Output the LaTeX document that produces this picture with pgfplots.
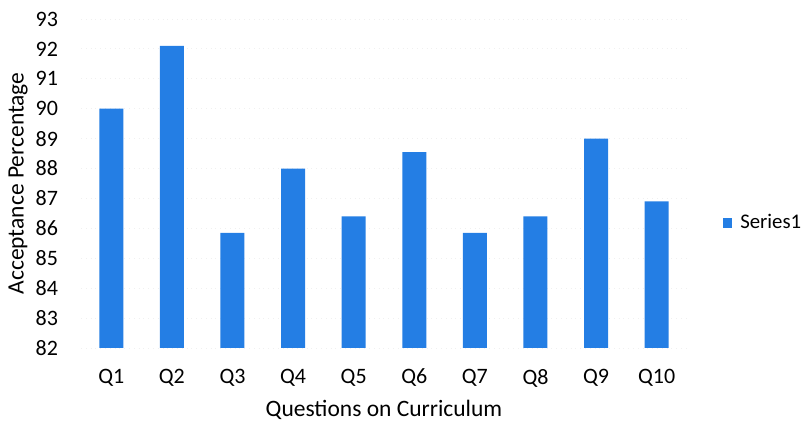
\documentclass[border=0pt]{standalone}
\usepackage{fontspec}
\setmainfont{Carlito}
\usepackage{pgfplots}
\pgfplotsset{compat=1.18}
\definecolor{barblue}{RGB}{36,126,228}

\begin{document}
\begin{tikzpicture}
  \useasboundingbox (-40.5pt,-36.5pt) rectangle (363pt,174pt);
  \begin{axis}[
      at={(0,0)}, anchor=south west,
      scale only axis,
      width=303pt, height=164.5pt,
      ymin=82, ymax=93,
      ytick={82,83,...,93},
      xmin=-0.5, xmax=9.5,
      xtick=data,
      xticklabels={Q1,Q2,Q3,Q4,Q5,Q6,Q7,Q8,Q9,Q10},
      axis line style={draw=none},
      major tick length=0pt,
      ymajorgrids,
      grid style={gray!12, dotted},
      /pgf/number format/assume math mode=true,
      ticklabel style={font=\fontsize{11}{13}\selectfont},
      yticklabel style={xshift=-8pt},
      xticklabel style={yshift=-7pt},
      xlabel={Questions on Curriculum},
      ylabel={Acceptance Percentage},
      every axis x label/.style={at={(axis description cs:0.5,0)}, anchor=center, yshift=-31pt, font=\fontsize{11.75}{14}\selectfont},
      every axis y label/.style={at={(axis description cs:0,0.5)}, rotate=90, anchor=center, yshift=31.5pt, font=\fontsize{11.75}{14}\selectfont},
      legend style={at={(axis description cs:1.059,0.38)}, anchor=west, draw=none, fill=none,
                    font=\fontsize{10.4}{13}\selectfont, inner sep=0pt},
      legend image code/.code={\fill[#1] (0cm,-0.08cm) rectangle (0.16cm,0.08cm);},
    ]
    \addplot[ybar, bar width=12pt, fill=barblue, draw=none, bar shift=0pt]
      coordinates {(0,90.0) (1,92.1) (2,85.85) (3,88.0) (4,86.4) (5,88.55) (6,85.85) (7,86.4) (8,89.0) (9,86.9)};
    \addlegendentry{\hspace{2pt}Series1}
  \end{axis}
\end{tikzpicture}
\end{document}
